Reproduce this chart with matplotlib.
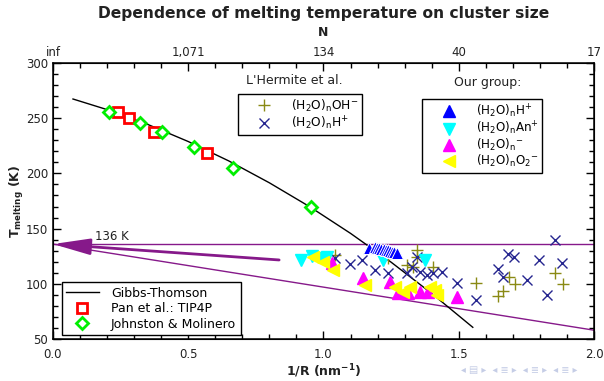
import matplotlib
matplotlib.use('Agg')
import matplotlib.pyplot as plt
from matplotlib.ticker import MultipleLocator
from matplotlib.lines import Line2D

# ---------------- data ----------------
gt_x = [0.074, 0.2, 0.35, 0.5, 0.65, 0.8, 0.95, 1.1, 1.25, 1.4, 1.552]
gt_T = [267.4, 257.8, 244.4, 228.9, 211.3, 191.5, 169.7, 145.7, 119.6, 91.3, 60.6]

pan_x = [0.242, 0.282, 0.375, 0.568]
pan_T = [255.3, 249.9, 237.8, 218.2]

jm_x = [0.208, 0.322, 0.402, 0.522, 0.664, 0.954]
jm_T = [255.3, 245.4, 237.2, 224.2, 205.2, 169.6]

lh_oh_x = [1.043, 1.24, 1.307, 1.332, 1.344, 1.344, 1.406, 1.564, 1.646, 1.665, 1.687, 1.708, 1.856, 1.884]
lh_oh_T = [126.0, 123.0, 117.0, 115.5, 130.6, 124.0, 115.5, 100.4, 89.0, 93.8, 106.4, 99.8, 109.5, 99.8]

lh_h_x = [1.043, 1.098, 1.141, 1.19, 1.24, 1.307, 1.326, 1.344, 1.357, 1.381, 1.406, 1.437,
          1.495, 1.564, 1.646, 1.665, 1.681, 1.706, 1.751, 1.798, 1.825, 1.856, 1.883]
lh_h_T = [123.0, 117.6, 121.6, 112.5, 109.6, 109.6, 115.5, 124.5, 111.0, 108.0, 109.6, 111.0,
          100.4, 85.3, 113.0, 106.0, 126.7, 124.5, 103.6, 122.0, 90.0, 139.7, 119.0]

og_h_x = [1.169, 1.19, 1.198, 1.206, 1.214, 1.222, 1.23, 1.238, 1.246, 1.254, 1.262, 1.27]
og_h_T = [132.7, 133.0, 132.6, 132.2, 131.8, 131.4, 131.0, 130.4, 129.8, 129.2, 128.6, 128.0]

og_an_x = [0.916, 0.956, 0.993, 1.012, 1.221, 1.375]
og_an_T = [121.6, 125.5, 123.0, 124.5, 121.6, 121.6]

og_m_x = [1.03, 1.147, 1.246, 1.277, 1.313, 1.357, 1.387, 1.492]
og_m_T = [118.6, 105.0, 102.0, 91.6, 91.6, 93.0, 93.0, 88.4]

og_o2_x = [0.962, 0.999, 1.036, 1.153, 1.264, 1.295, 1.32, 1.394, 1.412, 1.418]
og_o2_T = [124.5, 120.0, 112.5, 99.0, 97.4, 93.0, 97.4, 97.4, 94.4, 90.0]

ref_T = 136
diag_x = [0.0, 2.0]
diag_T = [136, 58]
arrow_from = (0.836, 121.6)

x_ticks = [0.0, 0.5, 1.0, 1.5, 2.0]
x_ticklabels = ['0.0', '0.5', '1.0', '1.5', '2.0']
n_ticklabels = ['inf', '1,071', '134', '40', '17']
y_ticks = [50, 100, 150, 200, 250, 300]

# ---------------- style ----------------
purple = '#86198a'
navy = '#26268f'
olive = '#8a8a14'
txtc = '#222222'

fig = plt.figure(figsize=(6.04, 3.81), dpi=100)
ax = fig.add_axes([0.0877, 0.1102, 0.8957, 0.7244])

ax.plot(gt_x, gt_T, color='black', lw=1.0, zorder=3)
ax.axhline(ref_T, color=purple, lw=1.0, zorder=2)
ax.plot(diag_x, diag_T, color=purple, lw=1.0, zorder=2)
ax.annotate('', xy=(0.0, ref_T), xytext=arrow_from,
            arrowprops=dict(arrowstyle='-|>,head_length=1.6,head_width=0.35',
                            color=purple, lw=2, mutation_scale=14,
                            shrinkA=0, shrinkB=0), zorder=4, annotation_clip=False)
ax.text(0.218, 143.3, '136 K', ha='center', va='center', fontsize=8.5, color=txtc)

ax.plot(pan_x, pan_T, ls='none', marker='s', ms=6.5, mfc='white', mec='red', mew=2, zorder=5)
ax.plot(jm_x, jm_T, ls='none', marker='D', ms=6.5, mfc='white', mec='#00ee00', mew=2, zorder=6)

ax.plot(lh_oh_x, lh_oh_T, ls='none', marker='+', ms=8, mec=olive, mew=1.0, zorder=4)
ax.plot(lh_h_x, lh_h_T, ls='none', marker='x', ms=7, mec=navy, mew=1.0, zorder=4)

ax.plot(og_an_x, og_an_T, ls='none', marker='v', ms=8, mfc='cyan', mec='cyan', zorder=4)
ax.plot(og_m_x, og_m_T, ls='none', marker='^', ms=8, mfc='magenta', mec='magenta', zorder=4)
ax.plot(og_o2_x, og_o2_T, ls='none', marker='<', ms=8, mfc='yellow', mec='yellow', zorder=4)
ax.plot(og_h_x, og_h_T, ls='none', marker='^', ms=8, mfc='blue', mec='white', mew=0.7, zorder=5)

ax.set_xlim(0, 2.0)
ax.set_ylim(50, 300)
ax.set_xticks(x_ticks)
ax.set_xticklabels(x_ticklabels)
ax.set_yticks(y_ticks)
ax.xaxis.set_minor_locator(MultipleLocator(0.1))
ax.yaxis.set_minor_locator(MultipleLocator(10))
ax.tick_params(which='both', direction='in', right=True, labelsize=8.5,
               labelcolor=txtc, width=1)
ax.tick_params(which='major', length=6)
ax.tick_params(which='minor', length=3.5)
ax.tick_params(axis='x', which='major', pad=6.5)
for s in ax.spines.values():
    s.set_linewidth(1.1)
    s.set_color('black')

ax.set_xlabel(r'1/R (nm$^{\mathbf{-1}}$)', fontsize=9, fontweight='bold', color=txtc)
ax.xaxis.set_label_coords(0.5, -0.084)
ax.set_ylabel(r'$\mathbf{T}_{\mathbf{melting}}$ (K)', fontsize=9, fontweight='bold',
              color=txtc)
ax.yaxis.set_label_coords(-0.05, 0.5)

top = ax.twiny()
top.set_xlim(ax.get_xlim())
top.set_xticks(x_ticks)
top.set_xticklabels(n_ticklabels)
top.xaxis.set_minor_locator(MultipleLocator(0.1))
top.tick_params(which='both', direction='in', labelsize=8.5, labelcolor=txtc, width=1)
top.tick_params(which='major', length=6, pad=3)
top.tick_params(which='minor', length=3.5)
top.set_xlabel('N', fontsize=9, fontweight='bold', color=txtc, labelpad=7)
top.set_title('Dependence of melting temperature on cluster size', fontsize=11.2,
              fontweight='bold', color=txtc, pad=6)

leg_kw = dict(frameon=True, fancybox=False, edgecolor='black',
              borderaxespad=0, framealpha=1)

h1 = [Line2D([], [], color='black', lw=1.0),
      Line2D([], [], ls='none', marker='s', ms=6.5, mfc='white', mec='red', mew=2),
      Line2D([], [], ls='none', marker='D', ms=6.5, mfc='white', mec='#00ee00', mew=2)]
l1 = ax.legend(h1, ['Gibbs-Thomson', 'Pan et al.: TIP4P', 'Johnston & Molinero'],
               loc='lower left', bbox_to_anchor=(0.016, 0.0145), handlelength=2.6,
               handletextpad=1.0, labelspacing=0.2, borderpad=0.35, fontsize=9, **leg_kw)
l1.get_frame().set_linewidth(1.0)
ax.add_artist(l1)

h2 = [Line2D([], [], ls='none', marker='+', ms=8, mec=olive, mew=1.0),
      Line2D([], [], ls='none', marker='x', ms=7, mec=navy, mew=1.0)]
l2 = ax.legend(h2, [r'(H$_2$O)$_\mathrm{n}$OH$^{-}$', r'(H$_2$O)$_\mathrm{n}$H$^{+}$'],
               loc='upper left', bbox_to_anchor=(0.342, 0.888), handlelength=3.6,
               handletextpad=0.4, labelspacing=0.05, borderpad=0.3, fontsize=8.8, **leg_kw)
l2.get_frame().set_linewidth(1.0)
ax.add_artist(l2)
ax.text(0.447, 0.938, "L'Hermite et al.", transform=ax.transAxes, ha='center',
        va='center', fontsize=9, color=txtc)

h3 = [Line2D([], [], ls='none', marker='^', ms=8, mfc='blue', mec='blue'),
      Line2D([], [], ls='none', marker='v', ms=8, mfc='cyan', mec='cyan'),
      Line2D([], [], ls='none', marker='^', ms=8, mfc='magenta', mec='magenta'),
      Line2D([], [], ls='none', marker='<', ms=8, mfc='yellow', mec='yellow')]
l3 = ax.legend(h3, [r'(H$_2$O)$_\mathrm{n}$H$^{+}$', r'(H$_2$O)$_\mathrm{n}$An$^{+}$',
                    r'(H$_2$O)$_\mathrm{n}$$^{-}$', r'(H$_2$O)$_\mathrm{n}$O$_2$$^{-}$'],
               loc='upper left', bbox_to_anchor=(0.682, 0.870), handlelength=3.9,
               handletextpad=0.3, labelspacing=0.0, borderpad=0.3, fontsize=8.6, **leg_kw)
l3.get_frame().set_linewidth(1.0)
ax.text(0.804, 0.931, 'Our group:', transform=ax.transAxes, ha='center',
        va='center', fontsize=9, color=txtc)

fig.text(0.86, 0.028, '\u25c2 \u25a4 \u25b8  \u25c2 \u2263 \u25b8  \u25c2 \u2263 \u25b8  \u25c2 \u2263 \u25b8',
         fontsize=7, color='#c5cde6', ha='center', va='center')

fig.savefig('out.png', dpi=100)
